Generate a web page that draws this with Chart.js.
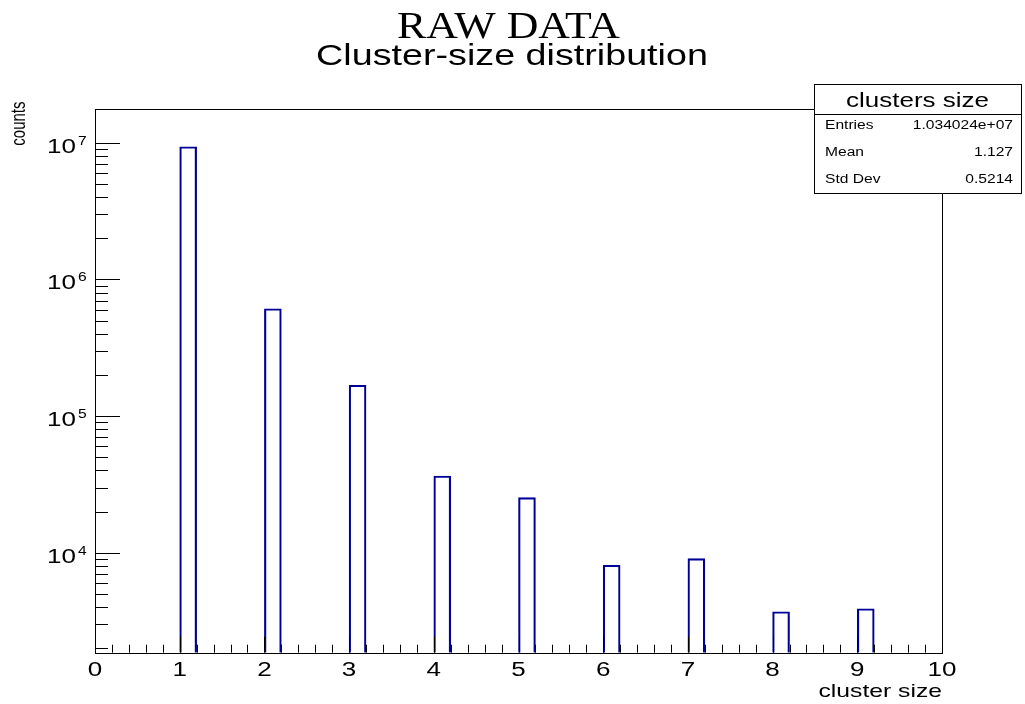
<!DOCTYPE html>
<html>
<head>
<meta charset="utf-8">
<title>Cluster-size distribution</title>
<script src="https://cdn.jsdelivr.net/npm/chart.js@4/dist/chart.umd.min.js"></script>
<style>
  html, body { margin: 0; padding: 0; background: #fff; }
  #wrap { width: 1025px; height: 704px; }
</style>
</head>
<body>
<div id="wrap"><canvas id="hist" width="1025" height="704"></canvas></div>
<script>
// histogram content: one filled bin per cluster size
var clusterSizes = [1, 2, 3, 4, 5, 6, 7, 8, 9];
var clusterCounts = [9350000, 610000, 168000, 36400, 25300, 8090, 9040, 3700, 3890];

// binning of the x axis
var xLow = 0, xHigh = 10, nBins = 50;
var xTickLabels = ['0', '1', '2', '3', '4', '5', '6', '7', '8', '9', '10'];

// log y range and decade labels
var yLow = 1855, yHigh = 17800000;
var yDecades = [4, 5, 6, 7];

// stats box
var statNames = ['Entries', 'Mean', 'Std Dev'];
var statValues = ['1.034024e+07', '1.127', '0.5214'];

var binWidth = (xHigh - xLow) / nBins;
var binLabels = [], binValues = [];
for (var i = 0; i < nBins; i++) {
  binLabels.push((xLow + (i + 0.5) * binWidth).toFixed(1));
  binValues.push(null);
}
clusterSizes.forEach(function (s, k) {
  binValues[Math.round((s - xLow) / binWidth)] = clusterCounts[k];
});

var SANS = '"Liberation Sans", Arial, sans-serif';
var SERIF = '"Liberation Serif", "Times New Roman", serif';
var SX = 1.3; // wide glyphs

function wideText(ctx, text, x, y, align, sx) {
  ctx.save();
  ctx.translate(x, y);
  ctx.scale(sx, 1);
  ctx.textAlign = align;
  ctx.fillText(text, 0, 0);
  ctx.restore();
}

var rootFrame = {
  id: 'rootFrame',
  afterDraw: function (chart) {
    var ctx = chart.ctx, a = chart.chartArea;
    var xs = chart.scales.xv, ys = chart.scales.y;
    ctx.save();
    ctx.strokeStyle = '#000';
    ctx.fillStyle = '#000';
    ctx.lineWidth = 1;

    // frame
    ctx.strokeRect(Math.round(a.left) + 0.5, Math.round(a.top) + 0.5,
      Math.round(a.right - a.left), Math.round(a.bottom - a.top));

    // x ticks, pointing up into the frame
    ctx.beginPath();
    for (var t = 0; t <= nBins; t++) {
      var v = xLow + t * binWidth;
      var px = Math.round(xs.getPixelForValue(v)) + 0.5;
      var len = (t % 5 === 0) ? 16 : 8;
      ctx.moveTo(px, a.bottom);
      ctx.lineTo(px, a.bottom - len);
    }
    ctx.stroke();

    // y ticks, pointing right into the frame
    ctx.beginPath();
    for (var e = 3; e <= 7; e++) {
      for (var m = 1; m <= 9; m++) {
        var val = m * Math.pow(10, e);
        if (val < yLow || val > yHigh) continue;
        var py = Math.round(ys.getPixelForValue(val)) + 0.5;
        ctx.moveTo(a.left, py);
        ctx.lineTo(a.left + (m === 1 ? 25 : 13), py);
      }
    }
    ctx.stroke();

    // x tick labels
    ctx.font = '20px ' + SANS;
    ctx.textBaseline = 'alphabetic';
    xTickLabels.forEach(function (lab) {
      wideText(ctx, lab, xs.getPixelForValue(parseFloat(lab)), a.bottom + 23.5, 'center', SX);
    });

    // y decade labels
    yDecades.forEach(function (d) {
      var py = ys.getPixelForValue(Math.pow(10, d));
      ctx.font = '20px ' + SANS;
      wideText(ctx, '10', 76, py + 10, 'right', SX);
      ctx.font = '12px ' + SANS;
      wideText(ctx, String(d), 78, py + 2, 'left', SX);
    });

    // axis titles
    ctx.font = '19px ' + SANS;
    wideText(ctx, 'cluster size', a.right, 697, 'right', SX);

    ctx.save();
    ctx.font = '15px ' + SANS;
    ctx.translate(25, 101.5);
    ctx.scale(SX, 1);
    ctx.rotate(-Math.PI / 2);
    ctx.textAlign = 'right';
    ctx.fillText('counts', 0, 0);
    ctx.restore();

    // titles
    ctx.font = '38px ' + SERIF;
    var w = ctx.measureText('RAW DATA').width;
    wideText(ctx, 'RAW DATA', 508.5, 38.3, 'center', 223 / w);
    ctx.font = '29px ' + SANS;
    wideText(ctx, 'Cluster-size distribution', 512, 65, 'center', SX);

    // stats box
    var bx = 814.5, by = 84.5, bw = 207, bh = 109;
    ctx.fillStyle = '#fff';
    ctx.fillRect(bx, by, bw, bh);
    ctx.strokeRect(bx, by, bw, bh);
    ctx.beginPath();
    ctx.moveTo(bx, 114.5);
    ctx.lineTo(bx + bw, 114.5);
    ctx.stroke();
    ctx.fillStyle = '#000';
    ctx.font = '20px ' + SANS;
    wideText(ctx, 'clusters size', 917.5, 107, 'center', SX);
    ctx.font = '12px ' + SANS;
    statNames.forEach(function (nm, k) {
      var yb = 129.3 + k * 26.9;
      wideText(ctx, nm, 825, yb, 'left', SX);
      wideText(ctx, statValues[k], 1013, yb, 'right', SX);
    });
    ctx.restore();
  }
};

new Chart(document.getElementById('hist'), {
  type: 'bar',
  data: {
    labels: binLabels,
    datasets: [{
      label: 'clusters size',
      data: binValues,
      backgroundColor: 'rgba(0,0,0,0)',
      borderColor: '#000099',
      borderWidth: 1.5,
      borderSkipped: 'start',
      barPercentage: 1,
      categoryPercentage: 1
    }]
  },
  options: {
    responsive: false,
    animation: false,
    events: [],
    layout: { padding: { left: 95, right: 83, top: 108.5, bottom: 51.3 } },
    plugins: { legend: { display: false }, tooltip: { enabled: false }, title: { display: false } },
    scales: {
      x: { type: 'category', display: false, offset: true },
      xv: { type: 'linear', axis: 'x', position: 'bottom', display: false, offset: false, min: xLow, max: xHigh },
      y: { type: 'logarithmic', display: false, min: yLow, max: yHigh, bounds: 'data' }
    }
  },
  plugins: [rootFrame]
});
</script>
</body>
</html>
